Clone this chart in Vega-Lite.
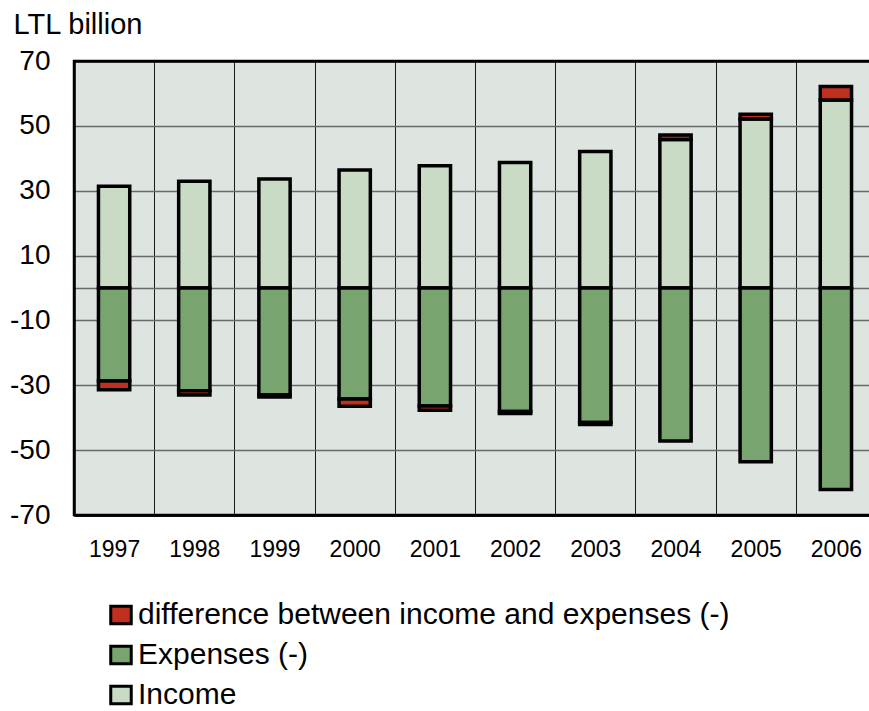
{
  "$schema": "https://vega.github.io/schema/vega-lite/v6.json",
  "width": 802,
  "height": 454,
  "autosize": {"type": "none"},
  "padding": {"left": 74, "top": 61, "right": 0, "bottom": 196},
  "background": "white",
  "config": {
    "font": "Liberation Sans",
    "view": {"fill": "#dee5e0", "stroke": "black", "strokeWidth": 2.5}
  },
  "data": {
    "values": [
      {"year": "1997", "category": "Income", "value": 31.4, "ord": 0},
      {"year": "1997", "category": "Expenses (-)", "value": -28.7, "ord": 1},
      {"year": "1997", "category": "difference between income and expenses (-)", "value": -2.7, "ord": 2},
      {"year": "1998", "category": "Income", "value": 32.9, "ord": 0},
      {"year": "1998", "category": "Expenses (-)", "value": -31.7, "ord": 1},
      {"year": "1998", "category": "difference between income and expenses (-)", "value": -1.3, "ord": 2},
      {"year": "1999", "category": "Income", "value": 33.6, "ord": 0},
      {"year": "1999", "category": "Expenses (-)", "value": -33.0, "ord": 1},
      {"year": "1999", "category": "difference between income and expenses (-)", "value": -0.6, "ord": 2},
      {"year": "2000", "category": "Income", "value": 36.4, "ord": 0},
      {"year": "2000", "category": "Expenses (-)", "value": -34.2, "ord": 1},
      {"year": "2000", "category": "difference between income and expenses (-)", "value": -2.3, "ord": 2},
      {"year": "2001", "category": "Income", "value": 37.7, "ord": 0},
      {"year": "2001", "category": "Expenses (-)", "value": -36.4, "ord": 1},
      {"year": "2001", "category": "difference between income and expenses (-)", "value": -1.3, "ord": 2},
      {"year": "2002", "category": "Income", "value": 38.7, "ord": 0},
      {"year": "2002", "category": "Expenses (-)", "value": -38.1, "ord": 1},
      {"year": "2002", "category": "difference between income and expenses (-)", "value": -0.6, "ord": 2},
      {"year": "2003", "category": "Income", "value": 42.1, "ord": 0},
      {"year": "2003", "category": "Expenses (-)", "value": -41.5, "ord": 1},
      {"year": "2003", "category": "difference between income and expenses (-)", "value": -0.6, "ord": 2},
      {"year": "2004", "category": "Income", "value": 45.8, "ord": 0},
      {"year": "2004", "category": "Expenses (-)", "value": -47.2, "ord": 1},
      {"year": "2004", "category": "difference between income and expenses (-)", "value": 1.4, "ord": 2},
      {"year": "2005", "category": "Income", "value": 52.1, "ord": 0},
      {"year": "2005", "category": "Expenses (-)", "value": -53.6, "ord": 1},
      {"year": "2005", "category": "difference between income and expenses (-)", "value": 1.5, "ord": 2},
      {"year": "2006", "category": "Income", "value": 58.0, "ord": 0},
      {"year": "2006", "category": "Expenses (-)", "value": -62.1, "ord": 1},
      {"year": "2006", "category": "difference between income and expenses (-)", "value": 4.1, "ord": 2}
    ]
  },
  "mark": {"type": "bar", "width": {"band": 0.39}, "stroke": "black", "strokeWidth": 3.5},
  "encoding": {
    "x": {
      "field": "year",
      "type": "ordinal",
      "scale": {"paddingInner": 0, "paddingOuter": 0},
      "axis": {
        "title": null,
        "labelAngle": 0,
        "labelFontSize": 23,
        "labelColor": "black",
        "labelPadding": 23,
        "ticks": false,
        "domain": true,
        "domainColor": "black",
        "domainWidth": 2.5,
        "grid": true,
        "tickBand": "extent",
        "gridColor": "#1a1a1a",
        "gridWidth": 1,
        "gridOpacity": 1
      }
    },
    "y": {
      "field": "value",
      "type": "quantitative",
      "stack": "zero",
      "scale": {"domain": [-70, 70], "nice": false, "zero": false},
      "axis": {
        "values": [-70, -50, -30, -10, 0, 10, 30, 50, 70],
        "labelExpr": "datum.value == 0 ? '' : '' + datum.value",
        "labelFontSize": 28,
        "labelColor": "black",
        "labelPadding": 24,
        "ticks": false,
        "domain": true,
        "domainColor": "black",
        "domainWidth": 2.5,
        "grid": true,
        "gridColor": {"condition": {"test": "abs(datum.value) == 70", "value": "black"}, "value": "#6a6a6a"},
        "gridWidth": {"condition": {"test": "abs(datum.value) == 70", "value": 2.5}, "value": 1.3},
        "gridOpacity": 1,
        "title": "LTL billion",
        "titleAngle": 0,
        "titleAlign": "left",
        "titleBaseline": "alphabetic",
        "titleX": -61,
        "titleY": -28,
        "titleFontSize": 29,
        "titleFontWeight": "normal",
        "titleColor": "black"
      }
    },
    "color": {
      "field": "category",
      "type": "nominal",
      "scale": {
        "domain": ["difference between income and expenses (-)", "Expenses (-)", "Income"],
        "range": ["#c0301e", "#78a46f", "#c9dbc5"]
      },
      "legend": {
        "title": null,
        "orient": "none",
        "legendX": 32,
        "legendY": 539,
        "padding": 0,
        "direction": "vertical",
        "symbolType": "M-1,-0.85L1,-0.85L1,0.85L-1,0.85Z",
        "symbolSize": 420,
        "symbolStrokeColor": "black",
        "symbolStrokeWidth": 3,
        "symbolOpacity": 1,
        "labelFontSize": 30,
        "labelColor": "black",
        "labelOffset": 2,
        "labelLimit": 800,
        "rowPadding": 10
      }
    },
    "order": {"field": "ord", "type": "quantitative"}
  }
}
